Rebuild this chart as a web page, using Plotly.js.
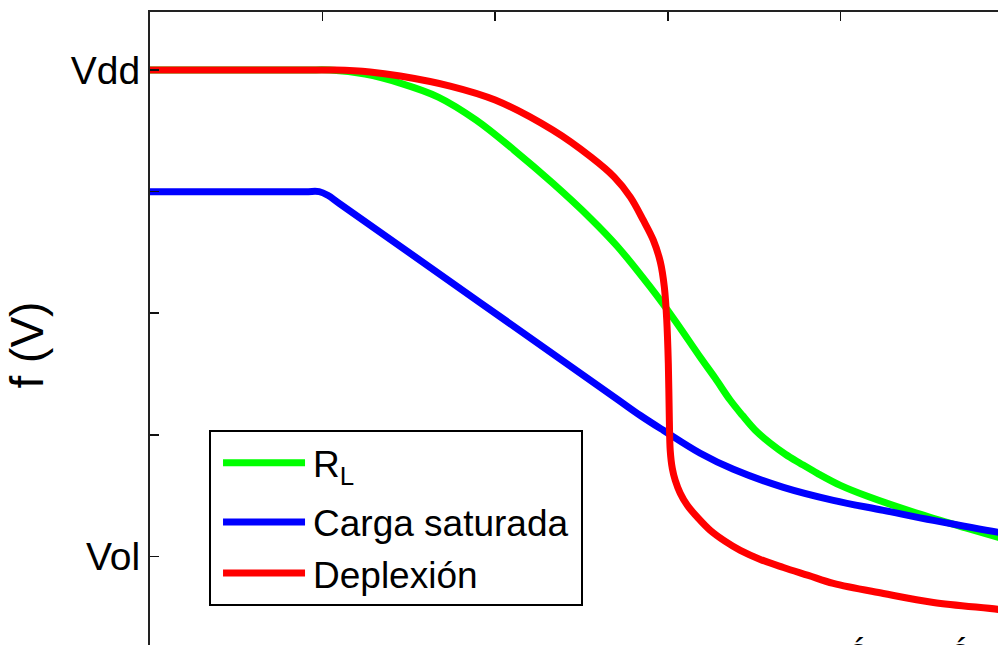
<!DOCTYPE html>
<html>
<head>
<meta charset="utf-8">
<script src="https://cdn.plot.ly/plotly-3.0.1.min.js"></script>
<style>
html,body{margin:0;padding:0;overflow:hidden;background:#fff;}
#chart{width:1100px;height:760px;}
</style>
</head>
<body>
<div id="chart"></div>
<script>
// Series names (legend)
const seriesNames = ['R<sub>L</sub>', 'Carga saturada\u2009', 'Deplexión'];
const seriesColors = ['#00ff00', '#0000ff', '#ff0000'];

// R_L (green)
const rlX = [0, 0.9, 1.043, 1.246, 1.449, 1.670, 1.890, 2.110, 2.333, 2.551, 2.707, 2.899, 3.032, 3.188, 3.275, 3.362, 3.432, 3.507, 3.594, 3.681, 3.768, 3.867, 4.0, 4.157, 4.446, 4.736, 4.916, 5.0];
const rlY = [5, 5, 5, 4.967, 4.893, 4.778, 4.588, 4.341, 4.070, 3.782, 3.551, 3.214, 2.959, 2.638, 2.465, 2.284, 2.160, 2.037, 1.930, 1.840, 1.765, 1.683, 1.584, 1.494, 1.354, 1.230, 1.156, 1.123];

// Carga saturada (blue)
const satX = [0, 0.9, 0.98, 1.03, 1.1, 2.70, 2.841, 2.974, 3.188, 3.380, 3.670, 3.959, 4.249, 4.539, 4.916, 5.0];
const satY = [4, 4, 4, 3.97, 3.9, 2.30, 2.159, 2.037, 1.848, 1.716, 1.568, 1.461, 1.379, 1.296, 1.198, 1.181];

// Deplexión (red)
const depX = [0, 0.9, 1.072, 1.275, 1.449, 1.739, 2.0, 2.333, 2.555, 2.690, 2.783, 2.858, 2.916, 2.957, 2.980, 2.994, 3.003, 3.009, 3.014, 3.026, 3.043, 3.072, 3.113, 3.177, 3.246, 3.333, 3.420, 3.536, 3.670, 3.814, 3.959, 4.249, 4.539, 4.916, 5.0];
const depY = [5, 5, 5, 4.984, 4.951, 4.868, 4.753, 4.506, 4.284, 4.119, 3.955, 3.765, 3.601, 3.420, 3.214, 2.942, 2.588, 2.119, 1.872, 1.724, 1.626, 1.519, 1.420, 1.313, 1.214, 1.123, 1.049, 0.975, 0.909, 0.844, 0.778, 0.695, 0.621, 0.564, 0.547];

// Axis ticks
const xTickVals = [0, 1, 2, 3, 4, 5];
const yTickVals = [1, 5];
const yTickText = ['Vol', 'Vdd'];
const yTitle = 'f (V)';

const lineW = 7;
const traces = [
  {x: rlX, y: rlY, name: seriesNames[0], legendgroup: 'a', mode: 'lines', line: {color: seriesColors[0], width: lineW, shape: 'spline', smoothing: 1}},
  {x: satX, y: satY, name: seriesNames[1], legendgroup: 'b', mode: 'lines', line: {color: seriesColors[1], width: lineW, shape: 'spline', smoothing: 1}},
  {x: depX, y: depY, name: seriesNames[2], legendgroup: 'b', mode: 'lines', line: {color: seriesColors[2], width: lineW, shape: 'spline', smoothing: 1}}
];

const axisCommon = {
  ticks: 'inside', ticklen: 9, tickwidth: 1.5, tickcolor: '#111',
  showline: true, linecolor: '#222', linewidth: 2, mirror: 'ticks',
  showgrid: false, zeroline: false, fixedrange: true
};

const layout = {
  width: 1100, height: 760,
  margin: {l: 150, r: 87, t: 12, b: 82, pad: 0},
  paper_bgcolor: '#ffffff', plot_bgcolor: '#ffffff',
  font: {family: '"Liberation Sans", Arial, sans-serif', size: 37, color: '#000'},
  showlegend: true,
  xaxis: Object.assign({}, axisCommon, {range: [0, 5], tickvals: xTickVals, showticklabels: false}),
  yaxis: Object.assign({}, axisCommon, {
    range: [0, 5.4774], tickvals: yTickVals, ticktext: yTickText,
    tickfont: {size: 39, color: '#000'},
    ticklabelstandoff: 0,
    minor: {tick0: 0, dtick: 1, ticks: 'inside', ticklen: 9, tickwidth: 1.5, tickcolor: '#111', showgrid: false},
    title: {text: yTitle, font: {size: 46, color: '#000'}, standoff: 13}
  }),
  legend: {
    x: 0.0684, y: 0.3719, xanchor: 'left', yanchor: 'top',
    bgcolor: '#ffffff', bordercolor: '#000', borderwidth: 2,
    font: {size: 37, color: '#000'}, itemwidth: 92, tracegroupgap: 8
  },
  annotations: [
    {x: 4.104, y: 0.399, xref: 'x', yref: 'y', text: 'ó', showarrow: false, xanchor: 'center', yanchor: 'top', font: {size: 36, color: '#000'}},
    {x: 4.695, y: 0.399, xref: 'x', yref: 'y', text: 'ó', showarrow: false, xanchor: 'center', yanchor: 'top', font: {size: 36, color: '#000'}}
  ]
};

Plotly.newPlot('chart', traces, layout, {staticPlot: true, displayModeBar: false}).then(function (gd) {
  gd.querySelectorAll('.legend .legendlines path').forEach(function (p) {
    p.setAttribute('d', 'M12,0h82');
  });
});
</script>
</body>
</html>
